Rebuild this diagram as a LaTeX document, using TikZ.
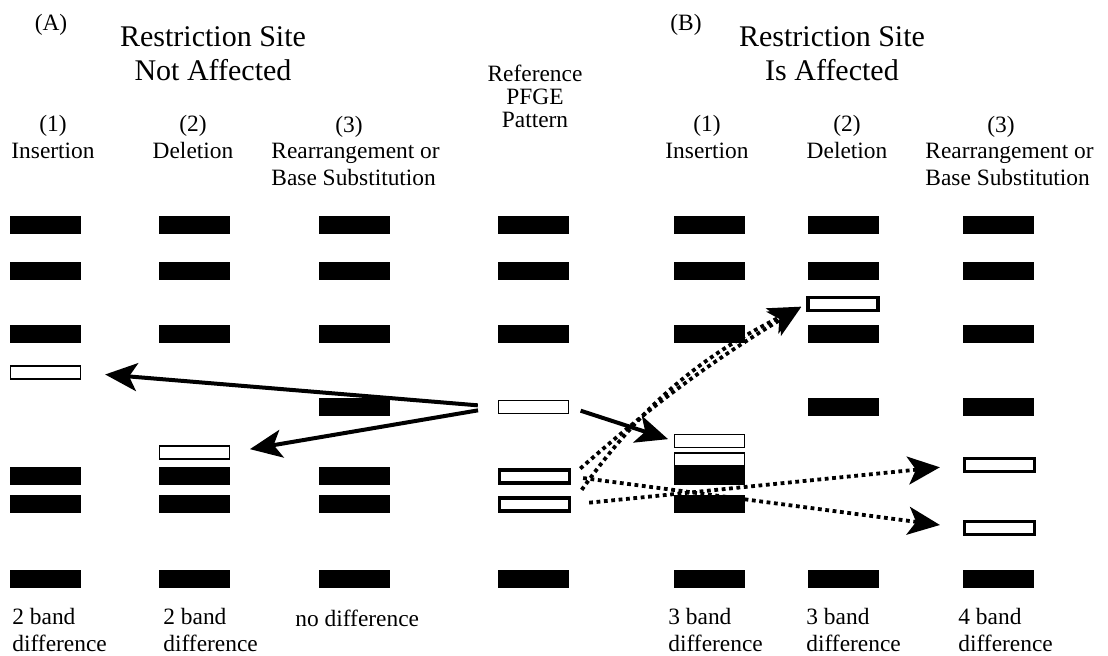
\documentclass[tikz,border=0pt]{standalone}
\usepackage{fontspec}
\setmainfont{Liberation Serif}
\usetikzlibrary{arrows.meta}

\begin{document}
\begin{tikzpicture}[
    x=0.5pt,
    y=-0.5pt,
    >={Stealth[length=16pt,width=14pt,inset=4pt]},
    bande/.style={
        rectangle,
        fill=black,
        inner sep=0pt,
        minimum width=35.5pt,
        minimum height=9pt
    },
    bandeouv/.style={
        rectangle,
        draw,
        fill=white,
        line width=0.75pt,
        inner sep=0pt,
        minimum width=35pt,
        minimum height=6.5pt
    },
    bandeneuf/.style={
        rectangle,
        draw,
        fill=white,
        line width=1.75pt,
        inner sep=0pt,
        minimum width=35pt,
        minimum height=6.5pt
    },
    fleche/.style={
        ->,
        line width=2pt
    },
    pointille/.style={
        ->,
        line width=1.9pt,
        dash pattern=on 1.9pt off 1.8pt
    },
    titre/.style={
        font=\fontsize{15}{17}\selectfont,
        align=center,
        inner sep=0pt,
        anchor=base
    },
    texte/.style={
        font=\fontsize{11.7}{13.5}\selectfont,
        inner sep=0pt,
        anchor=base
    }
]
\useasboundingbox (0,0) rectangle (1108,656);

% Headings (base = last line)
\node[texte] (lettreA) at (51,31) {(A)};
\node[titre] (titreA) at (213,81) {Restriction Site\\Not Affected};
\node[texte] (lettreB) at (686,31) {(B)};
\node[titre] (titreB) at (832,81) {Restriction Site\\Is Affected};
\node[texte, align=center, font=\fontsize{11.7}{11.5}\selectfont] (reference) at (535,128)
{Reference\\PFGE\\Pattern};

% Column headings (A)
\node[texte, align=center] (a1tete) at (53,159) {(1)\\Insertion};
\node[texte, align=center] (a2tete) at (193,159) {(2)\\Deletion};
\node[texte] (a3num) at (349,133) {(3)};
\node[texte, anchor=base west, align=left] (a3tete) at (271,186)
{Rearrangement or\\Base Substitution};

% Column headings (B)
\node[texte, align=center] (b1tete) at (707,159) {(1)\\Insertion};
\node[texte, align=center] (b2tete) at (847,159) {(2)\\Deletion};
\node[texte] (b3num) at (1001,133) {(3)};
\node[texte, anchor=base west, align=left] (b3tete) at (925,186)
{Rearrangement or\\Base Substitution};

% Lane A1
\node[bande] (a1r1) at (45.5,225) {};
\node[bande] (a1r2) at (45.5,271) {};
\node[bande] (a1r3) at (45.5,334.5) {};
\node[bandeouv] (a1ins) at (45.5,372.5) {};
\node[bande] (a1r7) at (45.5,476.5) {};
\node[bande] (a1r8) at (45.5,504.5) {};
\node[bande] (a1r9) at (45.5,579.5) {};

% Lane A2
\node[bande] (a2r1) at (194.5,225) {};
\node[bande] (a2r2) at (194.5,271) {};
\node[bande] (a2r3) at (194.5,334.5) {};
\node[bandeouv] (a2del) at (194.5,452.5) {};
\node[bande] (a2r7) at (194.5,476.5) {};
\node[bande] (a2r8) at (194.5,504.5) {};
\node[bande] (a2r9) at (194.5,579.5) {};

% Lane A3
\node[bande] (a3r1) at (354.5,225) {};
\node[bande] (a3r2) at (354.5,271) {};
\node[bande] (a3r3) at (354.5,334.5) {};
\node[bande] (a3r5) at (354.5,407) {};
\node[bande] (a3r7) at (354.5,476.5) {};
\node[bande] (a3r8) at (354.5,504.5) {};
\node[bande] (a3r9) at (354.5,579.5) {};

% Reference lane
\node[bande] (refr1) at (533.5,225) {};
\node[bande] (refr2) at (533.5,271) {};
\node[bande] (refr3) at (533.5,334.5) {};
\node[bandeouv] (refa) at (533.5,407) {};
\node[bandeneuf] (refb) at (534.5,476.5) {};
\node[bandeneuf] (refc) at (534.5,504.5) {};
\node[bande] (refr9) at (533.5,579.5) {};

% Lane B1
\node[bande] (b1r1) at (709.5,225) {};
\node[bande] (b1r2) at (709.5,271) {};
\node[bande] (b1r3) at (709.5,334.5) {};
\node[bandeouv] (b1new1) at (709.5,441) {};
\node[bandeouv] (b1new2) at (709.5,459.5) {};
\node[bande] (b1r7) at (709.5,476.5) {};
\node[bande] (b1r8) at (709.5,504.5) {};
\node[bande] (b1r9) at (709.5,579.5) {};

% Lane B2
\node[bande] (b2r1) at (843,225) {};
\node[bande] (b2r2) at (843,271) {};
\node[bandeneuf] (b2new) at (843,304) {};
\node[bande] (b2r3) at (843,334.5) {};
\node[bande] (b2r5) at (843,407) {};
\node[bande] (b2r9) at (843,579.5) {};

% Lane B3
\node[bande] (b3r1) at (998.5,225) {};
\node[bande] (b3r2) at (998.5,271) {};
\node[bande] (b3r3) at (998.5,334.5) {};
\node[bande] (b3r5) at (998.5,407) {};
\node[bandeneuf] (b3new1) at (999.5,465) {};
\node[bandeneuf] (b3new2) at (999.5,528) {};
\node[bande] (b3r9) at (998.5,579.5) {};

% Solid arrows
\draw[fleche, shorten <=10pt, shorten >=12pt] (refa.west) -- (a1ins.east);
\draw[fleche, shorten <=10pt, shorten >=10pt] (refa.west) -- (a2del.east);
\draw[fleche, shorten <=6pt, shorten >=3pt] (refa.east) -- (b1new1.west);

% Dotted arrows
\draw[pointille, shorten <=6pt, shorten >=3pt] (refb.east) to[bend left=5] (b2new.west);
\draw[pointille, shorten <=9pt, shorten >=3pt] (refc.east) to[bend left=14] (b2new.west);
\draw[pointille, shorten <=6pt, shorten >=11.5pt] (refb.east) -- (b3new2.west);
\draw[pointille, shorten <=9pt, shorten >=11.5pt] (refc.east) -- (b3new1.west);

% Band differences
\node[texte, anchor=base west, align=left] (a1diff) at (12,652) {2 band\\difference};
\node[texte, anchor=base west, align=left] (a2diff) at (163,652) {2 band\\difference};
\node[texte, anchor=base west] (a3diff) at (295,627) {no difference};
\node[texte, anchor=base west, align=left] (b1diff) at (668,652) {3 band\\difference};
\node[texte, anchor=base west, align=left] (b2diff) at (806,652) {3 band\\difference};
\node[texte, anchor=base west, align=left] (b3diff) at (958,652) {4 band\\difference};

\end{tikzpicture}
\end{document}
